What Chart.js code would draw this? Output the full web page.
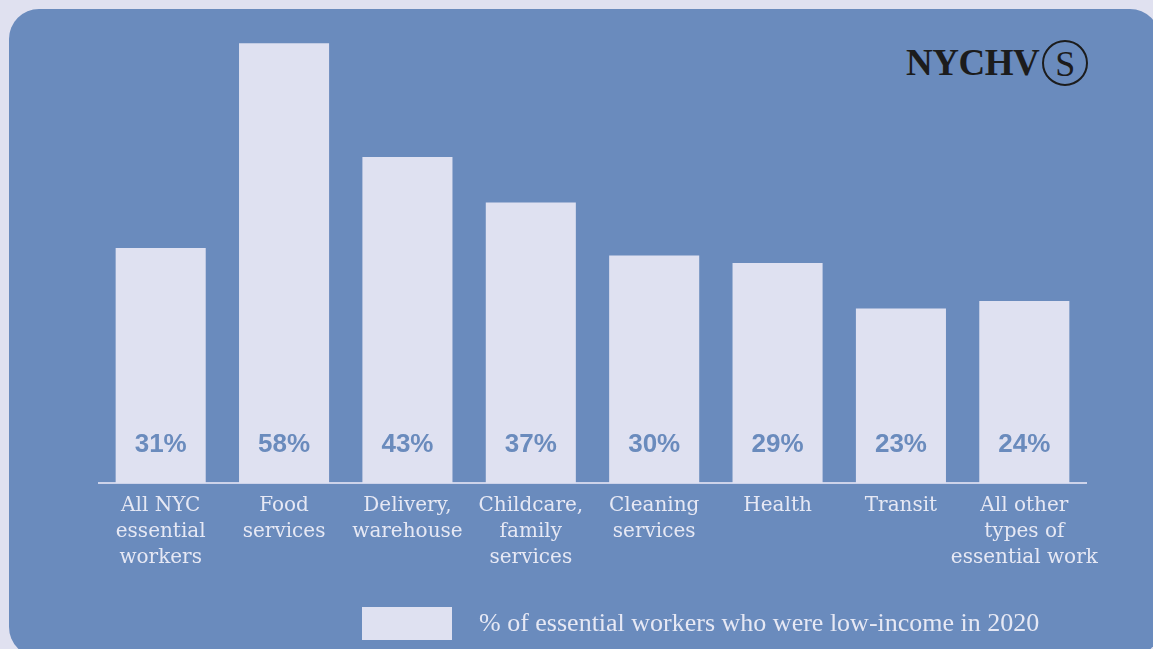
<!DOCTYPE html>
<html>
<head>
<meta charset="utf-8">
<script src="https://cdn.jsdelivr.net/npm/chart.js@4.4.1/dist/chart.umd.min.js"></script>
<style>
  body { margin: 0; background: #e0e1f0; width: 1153px; height: 649px; overflow: hidden; position: relative; }
  #panel { position: absolute; left: 9px; top: 9px; width: 1151px; height: 648px; border-radius: 30px; background: #6a8bbd; }
  #wrap { position: absolute; left: 0; top: 0; width: 1153px; height: 649px; }
  #logo { position: absolute; left: 906px; top: 40px; height: 46px; display: flex; align-items: center; color: #1c1c1c; }
  #logo .word { font: bold 37px "Liberation Serif", serif; letter-spacing: -0.5px; line-height: 46px; }
  #logo .circ { width: 42px; height: 42px; border: 2px solid #1c1c1c; border-radius: 50%; margin-left: 3px;
    font: 36px "Liberation Serif", serif; line-height: 44px; text-align: center; }
</style>
</head>
<body>
<div id="panel"></div>
<div id="logo"><span class="word">NYCHV</span><span class="circ">S</span></div>
<div id="wrap"><canvas id="chart" width="1153" height="649"></canvas></div>
<script>
// categories (multi-line tick labels)
const categories = [
  ['All NYC', 'essential', 'workers'],
  ['Food', 'services'],
  ['Delivery,', 'warehouse'],
  ['Childcare,', 'family', 'services'],
  ['Cleaning', 'services'],
  'Health',
  'Transit',
  ['All other', 'types of', 'essential work']
];
const lowIncomeShare = [31, 58, 43, 37, 30, 29, 23, 24];
const seriesLabel = '% of essential workers who were low-income in 2020';

const panelBlue = '#6a8bbd';
const barColor = '#dfe1f1';
const textLight = '#e6e8f4';

// value labels at the foot of each bar
const barValueLabels = {
  id: 'barValueLabels',
  afterDatasetsDraw(chart) {
    const ctx = chart.ctx;
    const meta = chart.getDatasetMeta(0);
    ctx.save();
    ctx.font = 'bold 26px "Liberation Sans", Arial, sans-serif';
    ctx.fillStyle = panelBlue;
    ctx.textAlign = 'center';
    ctx.textBaseline = 'middle';
    meta.data.forEach((bar, i) => {
      ctx.fillText(chart.data.datasets[0].data[i] + '%', bar.x, bar.base - 38);
    });
    ctx.restore();
  }
};

// legend drawn by hand so the gap between swatch and text matches
const bottomLegend = {
  id: 'bottomLegend',
  afterDraw(chart) {
    const ctx = chart.ctx;
    ctx.save();
    ctx.fillStyle = barColor;
    ctx.fillRect(362, 607, 90, 33);
    ctx.font = '26px "Liberation Serif", serif';
    ctx.fillStyle = textLight;
    ctx.textAlign = 'left';
    ctx.textBaseline = 'middle';
    ctx.fillText(chart.data.datasets[0].label, 479, 624);
    ctx.restore();
  }
};

new Chart(document.getElementById('chart'), {
  type: 'bar',
  data: {
    labels: categories,
    datasets: [{
      label: seriesLabel,
      data: lowIncomeShare,
      backgroundColor: barColor,
      borderWidth: 0,
      barPercentage: 0.73,
      categoryPercentage: 1
    }]
  },
  options: {
    responsive: false,
    animation: false,
    layout: { padding: { left: 99, right: 67, top: 28, bottom: 68 } },
    plugins: {
      legend: { display: false },
      tooltip: { enabled: false }
    },
    scales: {
      x: {
        grid: { display: false, drawTicks: false },
        border: { display: true, color: '#cdd3ea', width: 2 },
        ticks: {
          color: textLight,
          font: { family: '"DejaVu Serif", serif', size: 20, lineHeight: 1.3 },
          padding: 10,
          maxRotation: 0,
          autoSkip: false
        }
      },
      y: {
        display: false,
        min: 0,
        max: 60
      }
    }
  },
  plugins: [barValueLabels, bottomLegend]
});
</script>
</body>
</html>
